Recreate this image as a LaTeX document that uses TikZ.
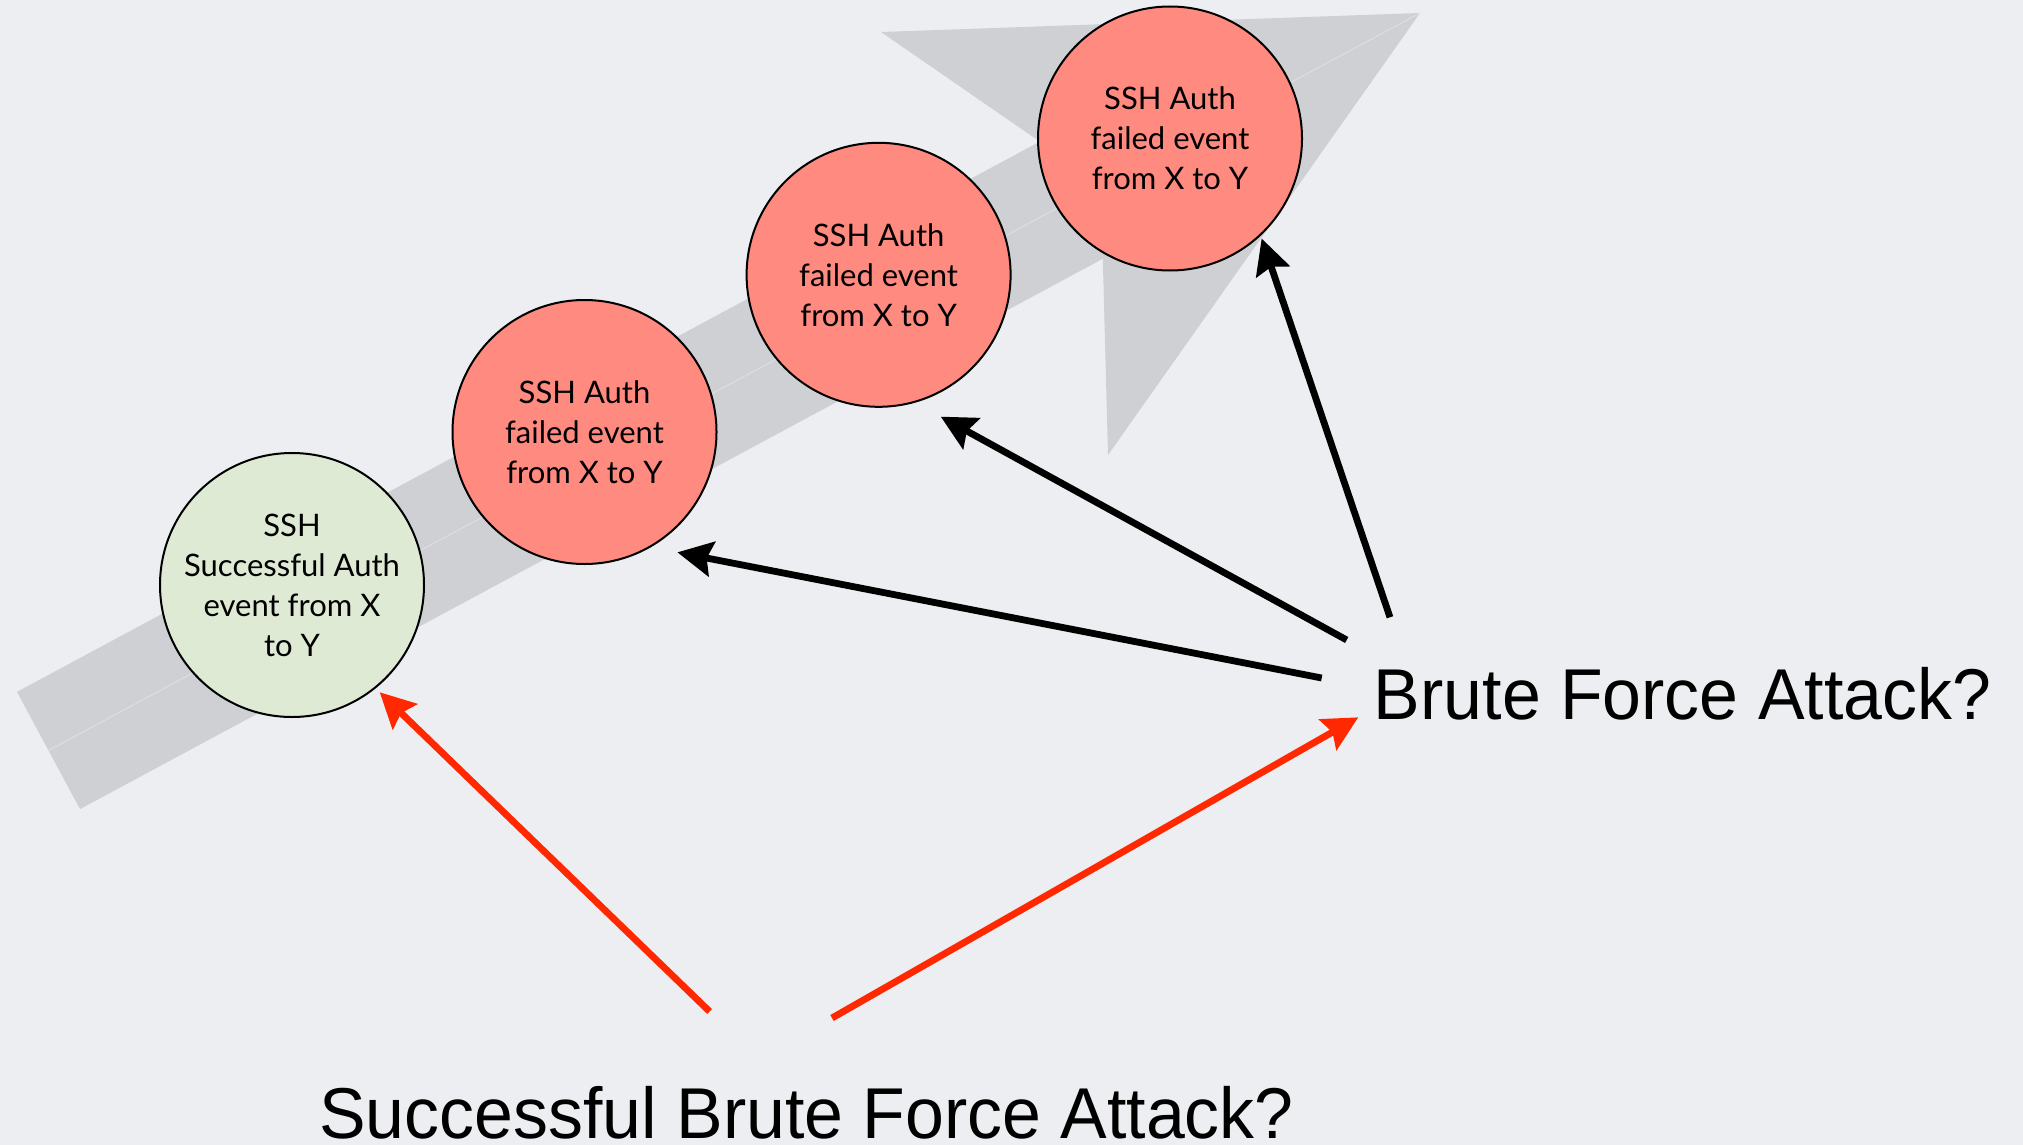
\documentclass[tikz,border=0pt]{standalone}
\usepackage{fontspec}
\setmainfont{Lato}
\newfontfamily\labelfont[FakeStretch=0.97]{Liberation Sans}
\usetikzlibrary{arrows.meta}
\definecolor{bgcol}{RGB}{237,238,241}
\definecolor{shaftgray}{RGB}{207,208,211}
\definecolor{shaftline}{RGB}{224,225,228}
\definecolor{failred}{RGB}{255,138,128}
\definecolor{okgreen}{RGB}{223,234,212}
\definecolor{alertred}{RGB}{255,40,0}
\begin{document}
\begin{tikzpicture}[x=0.5pt,y=-0.5pt,
  event/.style={circle, draw=black, line width=1pt, minimum size=132pt,
    inner sep=0pt, align=center, font=\fontsize{15.5}{20}\selectfont},
  failed/.style={event, fill=failred},
  success/.style={event, fill=okgreen},
  question/.style={inner sep=0pt, anchor=base west,
    font=\labelfont\fontsize{36}{40}\selectfont},
  link/.style={line width=3.4pt, -{Stealth[length=17.5pt,width=17.5pt,inset=2.6pt]}},
  blacklink/.style={link, draw=black},
  redlink/.style={link, draw=alertred}]

% canvas
\fill[bgcol] (0,0) rectangle (2023,1145);
\useasboundingbox (0,0) rectangle (2023,1145);

% broad timeline arrow behind the events
\fill[shaftgray] (17,691.9) -- (1039.8,141.6) -- (881,32) -- (1420,13)
  -- (1108,455) -- (1102.8,258.8) -- (80,809.1) -- cycle;
\draw[shaftline, line width=0.4pt] (48.5,750.5) -- (1420,13);

% events
\node[success] (c0) at (292,585) {SSH\\Successful Auth\\event from X\\to Y};
\node[failed]  (c1) at (584.5,432) {SSH Auth\\failed event\\from X to Y};
\node[failed]  (c2) at (878.6,274.8) {SSH Auth\\failed event\\from X to Y};
\node[failed]  (c3) at (1170,138.5) {SSH Auth\\failed event\\from X to Y};

% questions
\node[question] (brute) at (1373.5,719) {Brute Force Attack?};
\node[question] (succ) at (319,1138) {Successful Brute Force Attack?};

% connector tails
\coordinate (bt1) at (1390,617.3);
\coordinate (bt2) at (1346.7,640);
\coordinate (bt3) at (1321.7,678);
\coordinate (st1) at (709.6,1011.5);
\coordinate (st2) at (832,1018);

% brute force attack -> failed events
\draw[blacklink, shorten >=1.45pt] (bt1) -- (c3.-47.95);
\draw[blacklink, shorten >=14.55pt] (bt2) -- (c2.-74);
\draw[blacklink, shorten >=13.45pt] (bt3) -- (c1.-60.35);

% successful brute force attack -> success event and brute force attack
\draw[redlink, shorten >=2.8pt] (st1) -- (c0.-51.8);
\draw[redlink] (st2) -- ([xshift=-7.6pt,yshift=0.85pt]brute.base west);
\end{tikzpicture}
\end{document}
